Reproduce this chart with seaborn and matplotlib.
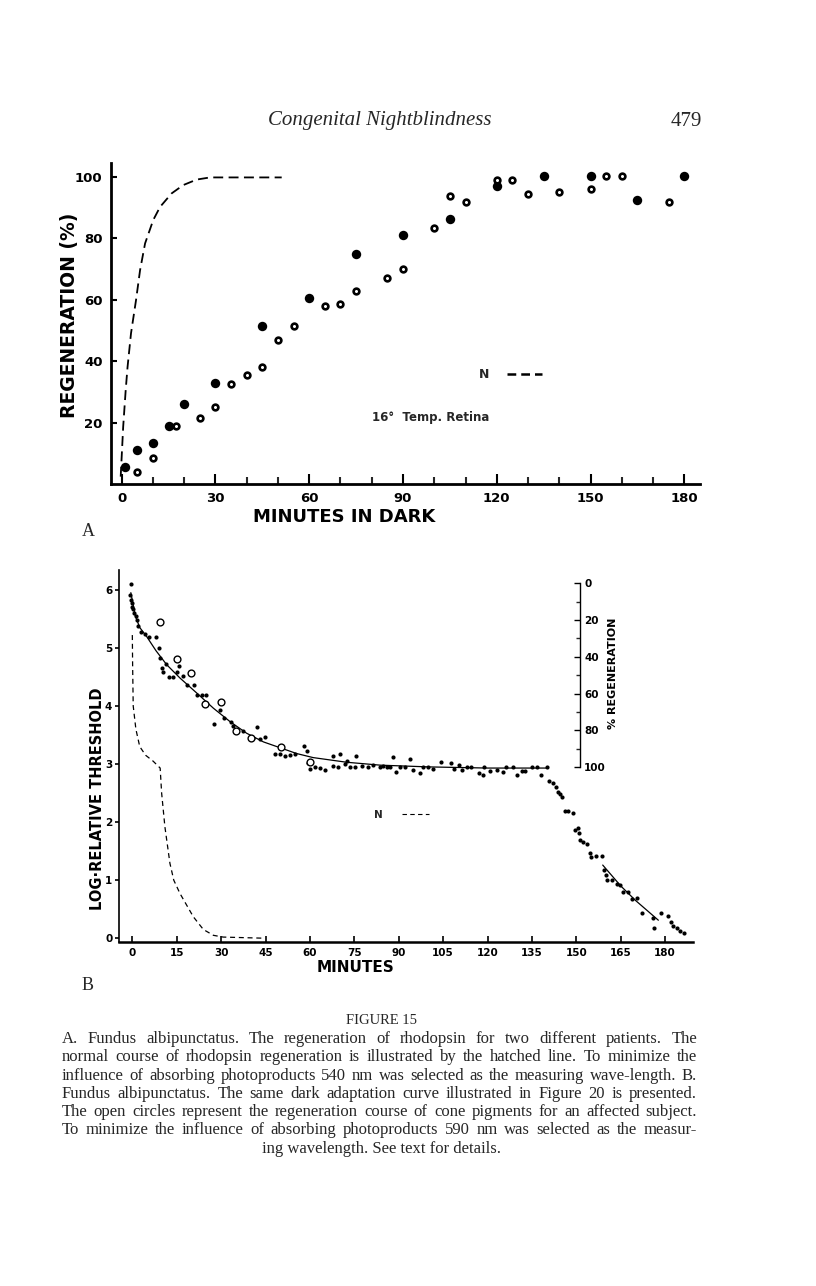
import seaborn as sns
import pandas as pd
import matplotlib.pyplot as plt
from matplotlib.lines import Line2D

# page size in pixels (saved at dpi=100)
W, H = 816, 1286

# ---- panel A: rhodopsin regeneration (%) vs minutes in dark
a_filled_min = [1, 5, 10, 15, 20, 30, 45, 60, 75, 90, 105, 120, 135, 150, 165, 180]
a_filled_pct = [5.5, 11, 13.5, 19, 26, 33, 51.5, 60.5, 75, 81, 86.5, 97, 100.5, 100.5, 92.5, 100.5]
a_open_min = [5, 10, 17.5, 25, 30, 35, 40, 45, 50, 55, 65, 70, 75, 85, 90,
              100, 105, 110, 120, 125, 130, 140, 150, 155, 160, 175]
a_open_pct = [4, 8.5, 19, 21.5, 25, 32.5, 35.5, 38, 47, 51.5, 58, 58.5, 63, 67, 70,
              83.5, 94, 92, 99, 99, 94.5, 95, 96, 100.5, 100.5, 92]
a_norm_min = [-0.3, 0.5, 1.3, 1.9, 3.0, 4.6, 5.9, 7.5, 10.1, 12.3, 16, 19.7, 24, 28.3, 51.2]
a_norm_pct = [2.4, 18.7, 30.6, 38.2, 49.1, 59.9, 69.7, 78.4, 86, 90.3, 94.7, 97.4, 99.2, 99.9, 99.9]
a_xticks = [0, 30, 60, 90, 120, 150, 180]
a_yticks = [20, 40, 60, 80, 100]

# ---- panel B: dark adaptation (log relative threshold) vs minutes
b_early_min = [-0.5, -0.8, -0.5, -0.2, 0, 0.3, 0.7, 1.1, 1.7, 1.8, 2.9, 4.3, 5.6, 8, 9, 9.4, 9.9, 10.5,
               11.4, 12.5, 13.6, 15.2, 15.9, 17.2, 18.6, 20.8, 21.8, 23.4, 24.8, 27.7, 29.6, 31.1, 33.2,
               34.1, 37.5, 40.9, 42.2, 43.1, 44.8, 48.2, 49.9, 51.6, 53.3, 55, 58.1, 58.9]
b_early_log = [6.10, 5.91, 5.83, 5.77, 5.71, 5.66, 5.60, 5.54, 5.48, 5.37, 5.28, 5.24, 5.18, 5.18, 5.0,
               4.83, 4.66, 4.58, 4.72, 4.5, 4.5, 4.58, 4.68, 4.52, 4.36, 4.36, 4.19, 4.19, 4.19, 3.69,
               3.93, 3.80, 3.73, 3.66, 3.56, 3.44, 3.64, 3.43, 3.46, 3.18, 3.18, 3.13, 3.16, 3.17, 3.31, 3.23]
b_plat_min = [59.5, 60, 61.7, 63.4, 65.1, 67.9, 67.9, 69.6, 70.2, 71.9, 72.4, 73.6, 75.2, 75.6, 77.5,
              79.7, 81.4, 83.7, 84.7, 85.9, 86.9, 88.2, 89.1, 90.4, 92.1, 93.8, 94.9, 97.2, 98.3, 100,
              101.7, 104.3, 107.7, 108.7, 110.4, 111.3, 113, 114.5, 117.1, 118.6, 118.9, 120.8, 123.1,
              125.1, 126.3, 128.7, 130.1, 131.6, 132.7, 134.9, 136.6, 138.1, 140]
b_plat_log = [3.01, 2.91, 2.95, 2.93, 2.90, 2.97, 3.13, 2.95, 3.18, 3.0, 3.05, 2.95, 2.94, 3.14, 2.97,
              2.95, 2.98, 2.95, 2.96, 2.94, 2.95, 3.12, 2.87, 2.95, 2.95, 3.08, 2.90, 2.84, 2.95, 2.95,
              2.91, 3.03, 3.01, 2.91, 2.98, 2.90, 2.94, 2.94, 2.84, 2.81, 2.94, 2.88, 2.90,
              2.86, 2.94, 2.94, 2.81, 2.88, 2.88, 2.94, 2.94, 2.81, 2.94]
b_fall_min = [140.8, 142.2, 143, 143.7, 144.5, 145.1, 146.2, 147.3, 148.8, 149.6, 150.7, 150.9, 151.2,
              152.4, 153.7, 154.6, 155, 156.7, 158.6, 159.4, 159.9, 160.5, 162.2, 163.6, 164.8, 165.9,
              167.6, 168.9, 170.4, 172.3, 175.8, 176.3, 178.6, 180.9, 182, 182.8, 183.9, 185, 186.2]
b_fall_log = [2.71, 2.67, 2.60, 2.52, 2.49, 2.43, 2.19, 2.19, 2.16, 1.86, 1.89, 1.82, 1.69,
              1.66, 1.63, 1.46, 1.40, 1.42, 1.42, 1.17, 1.09, 1.0, 1.01, 0.94, 0.91, 0.80,
              0.80, 0.68, 0.70, 0.44, 0.34, 0.18, 0.43, 0.38, 0.28, 0.21, 0.17, 0.13, 0.09]
# cone pigment regeneration (open circles, right-hand % scale)
b_open_min = [9.4, 15, 19.7, 24.7, 29.9, 35, 40, 50.1, 60]
b_open_pct = [21, 41, 49, 65.5, 64.5, 80.5, 84, 89, 97]
# fitted curve through the dots
b_fit_min = [-0.5, 1, 2.5, 4.9, 8, 11.6, 16.1, 21.8, 27.4, 33, 38.6, 44.3, 49.9, 55.5, 61.1,
             72.4, 83.7, 100, 120, 140]
b_fit_log = [5.95, 5.55, 5.35, 5.19, 4.95, 4.71, 4.48, 4.22, 3.96, 3.73, 3.53, 3.38, 3.28, 3.18, 3.11,
             3.03, 2.98, 2.95, 2.93, 2.93]
b_fit2_min = [158.9, 165, 170, 177.7]
b_fit2_log = [1.26, 0.9, 0.65, 0.31]
# normal dark adaptation (dashed)
b_norm_min = [0, 0.1, 0.3, 1.2, 2.5, 4.5, 7, 9.4, 9.9, 11, 12.7, 14, 16.1, 20.6, 24, 27.4, 30.7, 44.8]
b_norm_log = [5.22, 4.7, 4.0, 3.6, 3.3, 3.15, 3.05, 2.93, 2.5, 1.92, 1.29, 1.0, 0.77, 0.37, 0.15, 0.05, 0.02, 0.0]
b_xticks = list(range(0, 181, 15))
b_yticks = [0, 1, 2, 3, 4, 5, 6]
b_pct_ticks = [0, 20, 40, 60, 80, 100]

caption = [
    "A. Fundus albipunctatus. The regeneration of rhodopsin for two different patients. The",
    "normal course of rhodopsin regeneration is illustrated by the hatched line. To minimize the",
    "influence of absorbing photoproducts 540 nm was selected as the measuring wave-length. B.",
    "Fundus albipunctatus. The same dark adaptation curve illustrated in Figure 20 is presented.",
    "The open circles represent the regeneration course of cone pigments for an affected subject.",
    "To minimize the influence of absorbing photoproducts 590 nm was selected as the measur-",
]
caption_last = "ing wavelength. See text for details."

sns.set_theme(style='white')
plt.rcParams['font.family'] = ['DejaVu Sans']
SERIF = ['Liberation Serif', 'DejaVu Serif']

fig = plt.figure(figsize=(W / 100, H / 100), dpi=100)
fig.patch.set_facecolor('white')


def box(x0, y0, x1, y1):
    # pixel rectangle -> figure fraction
    return [x0 / W, 1 - y1 / H, (x1 - x0) / W, (y1 - y0) / H]


def bold_ticks(ax):
    for lab in ax.get_xticklabels() + ax.get_yticklabels():
        lab.set_fontweight('bold')


# ================= panel A =================
axA = fig.add_axes(box(111, 163, 700, 484))
axA.set_facecolor('white')
sns.lineplot(x=a_norm_min, y=a_norm_pct, ax=axA, color='black', lw=1.3,
             linestyle=(0, (5.5, 3)), sort=False, estimator=None)
sns.scatterplot(x=a_filled_min, y=a_filled_pct, ax=axA, color='black', s=46, linewidth=0, zorder=3)
sns.scatterplot(x=a_open_min, y=a_open_pct, ax=axA, color='white', edgecolor='black',
                s=17, linewidth=1.9, zorder=3)
axA.set_xlim(-3.4, 185)
axA.set_ylim(0, 104.6)
for s in ['top', 'right']:
    axA.spines[s].set_visible(False)
for s in ['left', 'bottom']:
    axA.spines[s].set_color('black')
    axA.spines[s].set_linewidth(2)
axA.set_xticks(a_xticks)
axA.set_xticks(range(0, 181, 10), minor=True)
axA.set_yticks(a_yticks)
axA.tick_params(axis='x', which='major', direction='in', length=7, width=1.5,
                labelsize=9.5, pad=6, bottom=True, colors='black')
axA.tick_params(axis='x', which='minor', direction='in', length=5, width=1.5, bottom=True)
axA.tick_params(axis='y', which='major', direction='in', length=4, width=1.5,
                labelsize=9.5, pad=6, left=True, colors='black')
bold_ticks(axA)
axA.set_xlabel('MINUTES IN DARK', fontsize=13, fontweight='bold', color='black')
axA.xaxis.set_label_coords((344.5 - 111) / 589, (484 - 517) / 321)
axA.xaxis.label.set_va('center')
axA.set_ylabel('REGENERATION (%)', fontsize=13.5, fontweight='bold', color='black')
axA.yaxis.set_label_coords((70 - 111) / 589, (484 - 315) / 321)
axA.yaxis.label.set_va('center')
axA.text(80, 21.8, '16°  Temp. Retina', fontsize=8.5, fontweight='bold', va='center')
axA.legend(handles=[Line2D([], [], color='black', lw=1.8, linestyle=(0, (3.5, 2)))],
           labels=['N'], loc='center left', frameon=False, markerfirst=False,
           bbox_to_anchor=((479 - 111) / 589, (484 - 374.5) / 321),
           prop={'weight': 'bold', 'size': 9}, handlelength=2.8, handletextpad=1.4,
           borderpad=0, borderaxespad=0)

# ================= panel B =================
axB = fig.add_axes(box(119.3, 570, 693, 942.3))
axB.set_facecolor('white')
sns.lineplot(x=b_norm_min, y=b_norm_log, ax=axB, color='black', lw=0.9,
             linestyle=(0, (4, 3)), sort=False, estimator=None)
sns.lineplot(x=b_fit_min, y=b_fit_log, ax=axB, color='black', lw=0.9, sort=False, estimator=None)
sns.lineplot(x=b_fit2_min, y=b_fit2_log, ax=axB, color='black', lw=0.9, sort=False, estimator=None)
dots = pd.DataFrame({'min': b_early_min + b_plat_min + b_fall_min,
                     'log': b_early_log + b_plat_log + b_fall_log})
sns.scatterplot(data=dots, x='min', y='log', ax=axB, color='black', s=9, linewidth=0, zorder=3)
axB.set_xlim(-4.4, 189.4)
axB.set_ylim(-0.07, 6.34)
for s in ['top', 'right']:
    axB.spines[s].set_visible(False)
axB.spines['left'].set_color('black')
axB.spines['left'].set_linewidth(1.2)
axB.spines['bottom'].set_color('black')
axB.spines['bottom'].set_linewidth(1.8)
axB.set_xticks(b_xticks)
axB.set_yticks(b_yticks)
axB.tick_params(axis='x', direction='in', length=4, width=1.2, labelsize=7.5, pad=4,
                bottom=True, colors='black')
axB.tick_params(axis='y', direction='out', length=3, width=1.2, labelsize=7.5, pad=2,
                left=True, colors='black')
bold_ticks(axB)
axB.set_xlabel('MINUTES', fontsize=11, fontweight='bold', color='black')
axB.xaxis.set_label_coords((355 - 119.3) / 573.7, (942.3 - 967) / 372.3)
axB.xaxis.label.set_va('center')
axB.set_ylabel('LOG·RELATIVE THRESHOLD', fontsize=10.5, fontweight='bold', color='black')
axB.yaxis.set_label_coords((97 - 119.3) / 573.7, (942.3 - 799) / 372.3)
axB.yaxis.label.set_va('center')
axB.legend(handles=[Line2D([], [], color='black', lw=0.8, linestyle=(0, (4, 3)))],
           labels=['N'], loc='center left', frameon=False, markerfirst=False,
           bbox_to_anchor=((374 - 119.3) / 573.7, (942.3 - 815) / 372.3),
           prop={'weight': 'bold', 'size': 7.5}, handlelength=2.6, handletextpad=1.8,
           borderpad=0, borderaxespad=0)

# right-hand % regeneration scale (cone pigments)
ax2 = axB.twinx()
sns.scatterplot(x=b_open_min, y=b_open_pct, ax=ax2, color='white', edgecolor='black',
                s=24, linewidth=1.0, zorder=4)
ax2.set_ylim(195.1, -7.2)
for s in ['top', 'bottom', 'left']:
    ax2.spines[s].set_visible(False)
ax2.spines['right'].set_position(('data', 151.2))
ax2.spines['right'].set_bounds(0, 100)
ax2.spines['right'].set_color('black')
ax2.spines['right'].set_linewidth(1.0)
ax2.set_yticks(b_pct_ticks)
ax2.set_yticks(range(0, 101, 10), minor=True)
ax2.tick_params(axis='y', which='major', direction='in', length=4, width=1, labelsize=7.5,
                pad=3, right=True, colors='black')
ax2.tick_params(axis='y', which='minor', direction='in', length=3, width=1, right=True)
bold_ticks(ax2)
ax2.set_ylabel('% REGENERATION', fontsize=8, fontweight='bold', color='black', rotation=90)
ax2.yaxis.set_label_position('right')
ax2.yaxis.set_label_coords((612.5 - 119.3) / 573.7, (942.3 - 673) / 372.3)
ax2.yaxis.label.set_va('center')

# ================= page text =================
fig.text(380 / W, 1 - 121 / H, 'Congenital Nightblindness', family=SERIF, style='italic',
         fontsize=15, ha='center', va='center')
fig.text(686 / W, 1 - 121 / H, '479', family=SERIF, fontsize=15, ha='center', va='center')
fig.text(88 / W, 1 - 531 / H, 'A', family=SERIF, fontsize=13, ha='center', va='center')
fig.text(88 / W, 1 - 985 / H, 'B', family=SERIF, fontsize=13, ha='center', va='center')
fig.text(381 / W, 1 - 1021 / H, 'FIGURE 15', family=SERIF, fontsize=10.5, ha='center', va='center')

# justified caption: one common font size that leaves at least ~5 px between words
renderer = fig.canvas.get_renderer()
x_left, x_right = 62, 697


def word_widths(words, size):
    widths = []
    for w in words:
        t = fig.text(0, 0, w, family=SERIF, fontsize=size)
        widths.append(t.get_window_extent(renderer).width)
        t.remove()
    return widths


cap_size = 13.5
while cap_size > 9:
    ok = True
    for line in caption:
        words = line.split(' ')
        gap = (x_right - x_left - sum(word_widths(words, cap_size))) / (len(words) - 1)
        if gap < 4.8:
            ok = False
            break
    if ok:
        break
    cap_size -= 0.25

for i, line in enumerate(caption):
    y = 1 - (1039 + i * 18.3) / H
    words = line.split(' ')
    widths = word_widths(words, cap_size)
    gap = (x_right - x_left - sum(widths)) / (len(words) - 1)
    x = x_left
    for w, wd in zip(words, widths):
        fig.text(x / W, y, w, family=SERIF, fontsize=cap_size, va='center')
        x += wd + gap
fig.text(381 / W, 1 - (1039 + 6 * 18.3) / H, caption_last, family=SERIF,
         fontsize=cap_size, ha='center', va='center')

fig.savefig('out.png', dpi=100, facecolor='white')
